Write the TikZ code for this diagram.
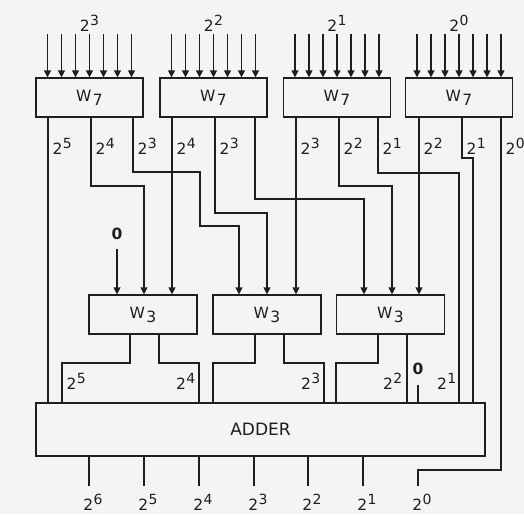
\documentclass[tikz,border=0pt]{standalone}
\usepackage{fontspec}
\setmainfont{DejaVu Sans}
\usetikzlibrary{arrows.meta}
\definecolor{paper}{HTML}{F4F4F4}
\definecolor{ink}{HTML}{1E1E1E}
\newcommand{\pw}[1]{2\kern0.5pt\raisebox{6pt}{\fontsize{14}{14}\selectfont #1}}
\newcommand{\wlow}[1]{W\kern1.5pt\raisebox{-4pt}{#1}}

\begin{document}
\begin{tikzpicture}[x=1pt, y=-1pt, line width=1.25pt, color=ink,
    font=\fontsize{15.5}{18}\selectfont]
  % Styles
  \tikzstyle{unit} = [draw, inner sep=0pt, minimum height=39pt]
  \tikzstyle{wseven} = [unit, minimum width=107pt]
  \tikzstyle{wthree} = [unit, minimum width=108pt]
  \tikzstyle{wire} = [-{Triangle[width=7pt,length=7pt]}]
  \tikzstyle{tagr} = [inner sep=0pt, anchor=base west]
  \tikzstyle{tagl} = [inner sep=0pt, anchor=base east]

  % Background
  \fill[paper] (0,0) rectangle (524,514);
  \useasboundingbox (0,0) rectangle (524,514);

  % W7 row
  \node[wseven] (sa) at (89.5,97.5) {\wlow{7}};
  \node[wseven] (sb) at (213.5,97.5) {\wlow{7}};
  \node[wseven] (sc) at (337,97.5) {\wlow{7}};
  \node[wseven] (sd) at (459,97.5) {\wlow{7}};

  % Inputs of the W7 row
  \foreach \b/\e in {sa/3, sb/2, sc/1, sd/0} {
    \foreach \k in {-3,...,3}
      \draw[wire] ([xshift=\k*14pt]\b.north) ++(0,-43) -- ([xshift=\k*14pt]\b.north);
    \node[inner sep=0pt, anchor=base] (in\b) at ([yshift=46pt]\b.north) {\pw{\e}};
  }

  % W3 row
  \node[wthree] (ta) at (143,314.5) {\wlow{3}};
  \node[wthree] (tb) at (267,314.5) {\wlow{3}};
  \node[wthree] (tc) at (390.5,314.5) {\wlow{3}};

  % Adder
  \node[unit, minimum width=449pt, minimum height=53pt,
    font=\fontsize{17}{20}\selectfont] (add) at (260.5,429.5) {ADDER};

  % Outputs of the first W7
  \draw (48,0 |- sa.south) -- (48,0 |- add.north);
  \draw[wire] (91,0 |- sa.south) |- (144,186) -- (144,0 |- ta.north);
  \draw[wire] (133,0 |- sa.south) |- (200,172) |- (239,226) -- (239,0 |- tb.north);
  \node[tagr] at (52,154) {\pw{5}};
  \node[tagr] at (95,154) {\pw{4}};
  \node[tagr] at (137,154) {\pw{3}};

  % Outputs of the second W7
  \draw[wire] (172,0 |- sb.south) -- (172,0 |- ta.north);
  \draw[wire] (215,0 |- sb.south) |- (267,213) -- (267,0 |- tb.north);
  \draw[wire] (255,0 |- sb.south) |- (364,199) -- (364,0 |- tc.north);
  \node[tagr] at (176,154) {\pw{4}};
  \node[tagr] at (219,154) {\pw{3}};

  % Outputs of the third W7
  \draw[wire] (296,0 |- sc.south) -- (296,0 |- tb.north);
  \draw[wire] (339,0 |- sc.south) |- (392,186) -- (392,0 |- tc.north);
  \draw (378,0 |- sc.south) |- (459,173) -- (459,0 |- add.north);
  \node[tagr] at (300,154) {\pw{3}};
  \node[tagr] at (343,154) {\pw{2}};
  \node[tagr] at (382,154) {\pw{1}};

  % Outputs of the fourth W7
  \coordinate (o0) at (418,486);
  \draw[wire] (419,0 |- sd.south) -- (419,0 |- tc.north);
  \draw (462,0 |- sd.south) |- (473,158) -- (473,0 |- add.north);
  \draw (501,0 |- sd.south) |- (418,470) -- (o0);
  \node[tagr] at (423,154) {\pw{2}};
  \node[tagr] at (466,154) {\pw{1}};
  \node[tagr] at (505,154) {\pw{0}};

  % Constant input of the first W3
  \node (za) at (117,234) {\textbf{0}};
  \draw[wire, shorten <=5pt] (za) -- (za |- ta.north);

  % W3 outputs into the adder
  \draw (130,0 |- ta.south) |- (62,363) -- (62,0 |- add.north);
  \draw (159,0 |- ta.south) |- (199,363) -- (199,0 |- add.north);
  \draw (255,0 |- tb.south) |- (213,363) -- (213,0 |- add.north);
  \draw (284,0 |- tb.south) |- (324,363) -- (324,0 |- add.north);
  \draw (378,0 |- tc.south) |- (336,363) -- (336,0 |- add.north);
  \draw (407,0 |- tc.south) -- (407,0 |- add.north);
  \node[tagr] at (66,389) {\pw{5}};
  \node[tagl] at (196,389) {\pw{4}};
  \node[tagl] at (321,389) {\pw{3}};
  \node[tagl] at (403,389) {\pw{2}};
  \node[tagl] at (457,389) {\pw{1}};

  % Constant input of the adder
  \node (zb) at (418,369) {\textbf{0}};
  \draw[shorten <=6pt] (zb) -- (zb |- add.north);

  % Adder outputs
  \foreach \x/\e in {89/6, 144/5, 199/4, 254/3, 308/2, 363/1} {
    \coordinate (o\e) at (\x,486);
    \draw (\x,0 |- add.south) -- (o\e);
  }
  \foreach \x/\e in {89/6, 144/5, 199/4, 254/3, 308/2, 363/1, 418/0}
    \node[inner sep=0pt, anchor=base, xshift=4pt] (out\e) at (\x,510) {\pw{\e}};

\end{tikzpicture}
\end{document}
